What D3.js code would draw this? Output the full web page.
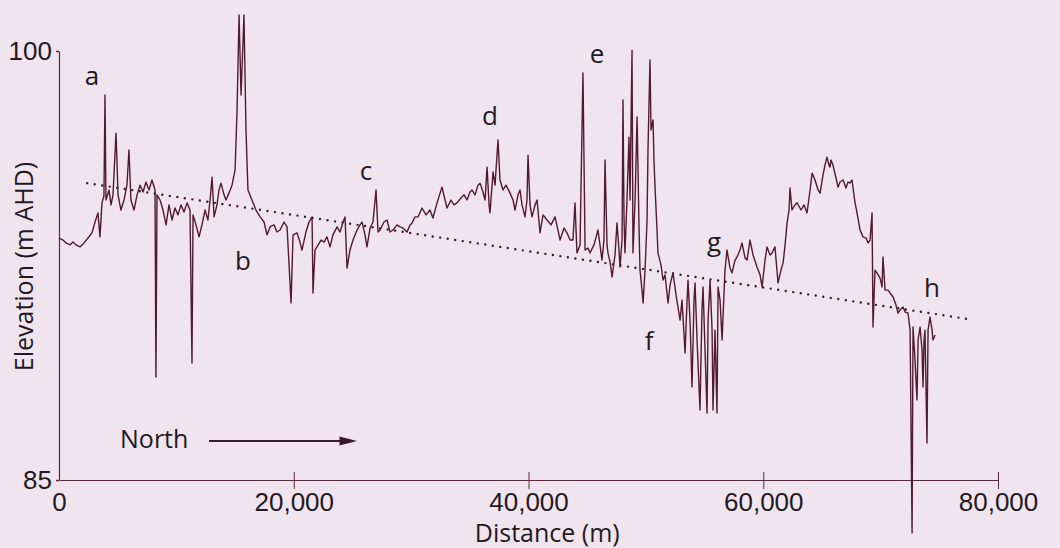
<!DOCTYPE html>
<html>
<head>
<meta charset="utf-8">
<script src="https://cdn.jsdelivr.net/npm/d3@7"></script>
<style>
  html, body { margin: 0; padding: 0; background: #f0e5ef; }
  svg { display: block; font-family: "Open Sans", "Noto Sans", sans-serif; }
</style>
</head>
<body>
<svg class="chart" width="1060" height="548"></svg>
<script>
// Elevation profile along the transect: [distance (m), elevation (m AHD)]
const profile = [
  [0, 93.46], [340, 93.39], [600, 93.29], [940, 93.22], [1190, 93.32], [1450, 93.22], [1790, 93.15],
  [2130, 93.29], [2470, 93.46], [2810, 93.64], [3070, 94.02], [3320, 94.34], [3490, 93.50], [3660, 94.69],
  [3830, 94.93], [3920, 98.46], [4000, 94.79], [4260, 95.14], [4430, 94.62], [4600, 94.97], [4860, 97.13],
  [5030, 94.97], [5280, 94.44], [5540, 94.79], [5790, 95.31], [5960, 96.54], [6130, 94.79], [6390, 94.44],
  [6650, 94.97], [6900, 95.31], [7160, 95.07], [7410, 95.42], [7670, 95.14], [7920, 95.49], [8180, 95.14],
  [8260, 88.60], [8350, 94.97], [8610, 94.79], [8860, 94.44], [9120, 93.92], [9370, 94.62], [9630, 94.09],
  [9880, 94.51], [10140, 94.27], [10390, 94.62], [10650, 94.37], [10910, 94.69], [11160, 94.44], [11330, 89.09],
  [11420, 94.27], [11670, 93.92], [11930, 93.50], [12180, 93.92], [12440, 94.44], [12690, 94.09], [12870, 94.79],
  [13040, 95.59], [13210, 94.20], [13460, 94.62], [13630, 95.14], [13800, 95.38], [14060, 94.97], [14230, 94.79],
  [14480, 95.03], [14740, 95.31], [15000, 95.84], [15170, 97.94], [15340, 101.26], [15510, 98.46], [15760, 101.26],
  [15930, 97.24], [16100, 95.14], [16440, 94.79], [16780, 94.44], [17130, 94.20], [17470, 94.02], [17720, 93.57],
  [17980, 93.85], [18320, 93.92], [18570, 93.67], [18830, 93.74], [19170, 94.02], [19430, 93.85], [19770, 91.19],
  [19940, 93.57], [20280, 93.64], [20530, 93.32], [20700, 93.04], [21040, 93.67], [21300, 94.02], [21560, 94.20],
  [21640, 91.54], [21810, 93.04], [21980, 93.15], [22320, 93.39], [22580, 93.32], [22830, 93.50], [23090, 93.15],
  [23340, 93.57], [23690, 93.85], [23940, 93.67], [24200, 94.02], [24370, 94.20], [24540, 92.41], [24790, 93.04],
  [25050, 93.39], [25390, 93.74], [25650, 93.92], [25820, 94.02], [26070, 93.57], [26240, 93.15], [26500, 93.81],
  [26750, 94.02], [27010, 95.14], [27180, 93.67], [27350, 93.74], [27690, 94.02], [27950, 94.09], [28200, 93.67],
  [28460, 93.74], [28800, 93.92], [29050, 93.85], [29310, 93.81], [29650, 93.67], [29910, 93.92], [30080, 93.99],
  [30330, 94.20], [30590, 94.20], [30930, 94.51], [31270, 94.27], [31610, 94.44], [31860, 94.16], [32210, 94.69],
  [32630, 95.24], [32890, 94.79], [33060, 94.51], [33400, 94.79], [33650, 94.62], [33910, 94.69], [34250, 94.86],
  [34510, 94.97], [34760, 94.79], [35020, 95.07], [35190, 95.14], [35440, 94.97], [35700, 95.31], [35870, 95.38],
  [36120, 95.07], [36300, 94.79], [36470, 95.94], [36640, 94.62], [36720, 94.34], [36980, 95.77], [37150, 95.31],
  [37400, 96.89], [37570, 95.49], [37830, 95.14], [38080, 95.31], [38430, 95.03], [38680, 94.79], [38850, 94.44],
  [39110, 94.97], [39280, 95.14], [39450, 94.62], [39700, 94.20], [39870, 94.79], [39960, 96.36], [40130, 94.62],
  [40300, 94.20], [40560, 94.62], [40730, 94.79], [40980, 93.64], [41240, 94.27], [41580, 94.09], [41920, 93.92],
  [42260, 94.20], [42510, 93.74], [42690, 93.39], [43030, 93.81], [43280, 93.64], [43540, 93.39], [43790, 93.39],
  [43960, 94.69], [44130, 92.94], [44390, 93.22], [44640, 99.23], [44820, 93.04], [45070, 93.11], [45240, 92.94],
  [45580, 93.22], [45920, 93.74], [46090, 93.22], [46260, 92.69], [46430, 93.39], [46520, 96.19], [46690, 93.22],
  [46770, 92.94], [46950, 92.62], [47120, 92.10], [47370, 92.87], [47540, 93.99], [47710, 93.04], [47800, 92.45],
  [47970, 93.39], [48050, 98.29], [48140, 94.09], [48220, 92.94], [48390, 94.79], [48560, 96.99], [48650, 94.79],
  [48820, 100.03], [48900, 92.94], [49080, 94.79], [49250, 97.69], [49420, 93.74], [49500, 92.34], [49670, 91.64],
  [49760, 91.19], [49930, 92.34], [50100, 94.09], [50180, 96.54], [50350, 99.69], [50440, 97.24], [50610, 97.59],
  [50690, 96.19], [50780, 95.24], [50950, 93.74], [51030, 92.94], [51290, 92.52], [51460, 91.99], [51630, 92.17],
  [51890, 91.19], [52060, 91.82], [52310, 92.24], [52570, 91.47], [52910, 90.59], [53080, 91.29], [53340, 89.44],
  [53510, 91.29], [53590, 91.99], [53760, 90.59], [53930, 88.25], [54100, 91.29], [54190, 91.89], [54360, 89.90],
  [54610, 87.45], [54780, 90.94], [54870, 91.75], [55040, 89.55], [55210, 87.34], [55300, 90.59], [55470, 91.99],
  [55640, 90.24], [55720, 87.45], [55890, 90.24], [56060, 87.34], [56150, 91.75], [56320, 91.29], [56490, 89.90],
  [56740, 92.34], [56910, 93.04], [57170, 92.41], [57340, 92.24], [57600, 92.69], [57770, 92.80], [58020, 93.04],
  [58190, 93.29], [58450, 92.76], [58620, 92.69], [58870, 93.39], [59130, 92.87], [59470, 92.45], [59730, 92.17],
  [59900, 91.75], [60150, 92.69], [60320, 93.15], [60580, 92.87], [60750, 92.94], [61000, 93.15], [61260, 91.89],
  [61510, 92.34], [61690, 92.59], [61860, 93.22], [62030, 93.99], [62200, 94.44], [62280, 95.21], [62450, 94.44],
  [62710, 94.62], [62880, 94.69], [63220, 94.44], [63470, 94.62], [63730, 94.34], [63990, 95.14], [64160, 95.73],
  [64410, 95.49], [64670, 95.14], [64840, 95.03], [65090, 95.66], [65260, 96.01], [65430, 96.29], [65600, 96.01],
  [65690, 95.94], [65770, 96.19], [65940, 96.01], [66200, 95.56], [66370, 95.24], [66540, 95.42], [66800, 95.49],
  [67050, 95.21], [67220, 95.42], [67390, 95.38], [67560, 95.49], [67820, 94.69], [67990, 94.34], [68250, 93.74],
  [68500, 93.50], [68760, 93.46], [68930, 93.29], [69100, 93.39], [69270, 94.34], [69350, 90.35], [69520, 92.34],
  [69690, 92.24], [69950, 92.06], [70120, 91.75], [70200, 92.80], [70380, 91.64], [70630, 91.64], [70800, 91.54],
  [71060, 91.40], [71310, 91.12], [71480, 90.84], [71650, 90.94], [71910, 91.05], [72080, 90.87], [72330, 90.84],
  [72510, 90.24], [72680, 83.15], [72760, 90.35], [72930, 89.20], [73100, 87.80], [73190, 89.90], [73360, 90.35],
  [73530, 89.55], [73610, 88.25], [73700, 89.90], [73780, 90.24], [73950, 86.29], [74040, 90.24], [74210, 90.70],
  [74380, 90.24], [74460, 89.90], [74640, 90.07]
];

// dotted regional trend
const trendDist = [2400, 77400];
const trendElev = [95.38, 90.63];

// site letters
const letters = ["a", "b", "c", "d", "e", "f", "g", "h"];
const letterDist = [2810, 15680, 26160, 36720, 45840, 50270, 55810, 74380];
const letterElev = [98.81, 92.34, 95.49, 97.41, 99.58, 89.55, 93.01, 91.40];

const xTicks = [0, 20000, 40000, 60000, 80000];
const yTicks = [85, 100];

const svg = d3.select(".chart");
const margin = { top: 51, right: 62, bottom: 68, left: 59 };
const width = +svg.attr("width");
const height = +svg.attr("height");

const ink = "#24191f";
const lineCol = "#521a2d";

const x = d3.scaleLinear().domain([0, 80000]).range([margin.left, width - margin.right]);
const y = d3.scaleLinear().domain([85, 100]).range([height - margin.bottom, margin.top]);

// x axis
const xAxis = svg.append("g")
  .attr("transform", `translate(0,${y(85)})`)
  .call(d3.axisBottom(x).tickValues(xTicks).tickFormat(d3.format(",")).tickSizeOuter(0));
xAxis.select(".domain").attr("stroke", "#5a2a3c").attr("stroke-width", 1.2);
xAxis.selectAll(".tick line").attr("stroke", "#5a2a3c").attr("y1", -8).attr("y2", 9)
  .attr("opacity", d => d === 0 ? 0 : 1);
xAxis.selectAll(".tick text").attr("y", 13).attr("fill", ink).style("font-size", "26px");

// y axis
const yAxis = svg.append("g")
  .attr("transform", `translate(${x(0)},0)`)
  .call(d3.axisLeft(y).tickValues(yTicks).tickSize(3).tickPadding(4).tickSizeOuter(0));
yAxis.select(".domain").attr("stroke", "#5a2a3c").attr("stroke-width", 1.2);
yAxis.selectAll(".tick line").attr("stroke", "#5a2a3c").attr("stroke-width", 1.5);
yAxis.selectAll(".tick text").attr("fill", ink).style("font-size", "26px");

// axis titles
svg.append("text")
  .attr("transform", `translate(33,${(y(85) + y(100)) / 2 + 1}) rotate(-90)`)
  .attr("text-anchor", "middle")
  .attr("fill", ink)
  .style("font-size", "25px")
  .text("Elevation (m AHD)");

svg.append("text")
  .attr("x", x(41600))
  .attr("y", 542)
  .attr("text-anchor", "middle")
  .attr("fill", ink)
  .style("font-size", "25px")
  .text("Distance (m)");

// trend line
svg.append("line")
  .attr("x1", x(trendDist[0])).attr("y1", y(trendElev[0]))
  .attr("x2", x(trendDist[1])).attr("y2", y(trendElev[1]))
  .attr("stroke", "#3a1a28")
  .attr("stroke-width", 2.4)
  .attr("stroke-linecap", "round")
  .attr("stroke-dasharray", "0 7.6");

// profile
const line = d3.line().x(d => x(d[0])).y(d => y(d[1]));
svg.append("path")
  .datum(profile)
  .attr("d", line)
  .attr("fill", "none")
  .attr("stroke", lineCol)
  .attr("stroke-width", 1.4)
  .attr("stroke-linejoin", "round");

// letters
svg.selectAll(".site")
  .data(letters)
  .enter()
  .append("text")
  .attr("class", "site")
  .attr("x", (d, i) => x(letterDist[i]))
  .attr("y", (d, i) => y(letterElev[i]))
  .attr("text-anchor", "middle")
  .attr("fill", ink)
  .style("font-size", "26px")
  .text(d => d);

// North arrow
const arrowY = y(86.36);
svg.append("text")
  .attr("x", x(5200))
  .attr("y", y(86.12))
  .attr("fill", ink)
  .style("font-size", "25px")
  .text("North");

svg.append("line")
  .attr("x1", x(12780)).attr("y1", arrowY)
  .attr("x2", x(24200)).attr("y2", arrowY)
  .attr("stroke", "#3a1a28")
  .attr("stroke-width", 2);

svg.append("path")
  .attr("d", `M${x(25390)},${arrowY} L${x(23900)},${arrowY - 4.5} L${x(23900)},${arrowY + 4.5} Z`)
  .attr("fill", "#3a1a28");
</script>
</body>
</html>
